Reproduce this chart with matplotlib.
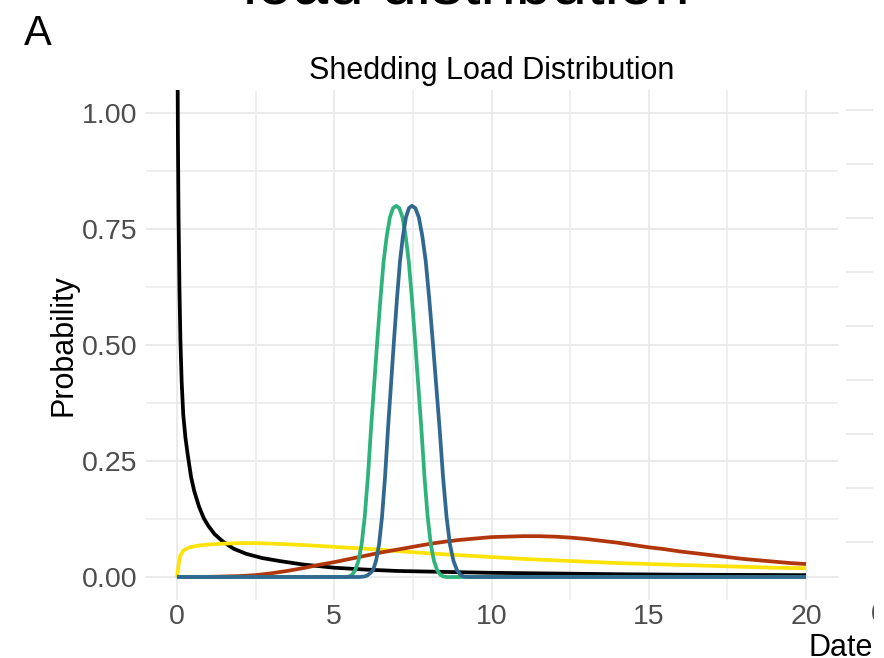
import matplotlib
matplotlib.use("Agg")
import matplotlib.pyplot as plt
from matplotlib.ticker import MultipleLocator
from matplotlib.patches import Rectangle

plt.rcParams['font.family'] = ['Liberation Sans', 'DejaVu Sans']

# ---- data ----
black_x = [0.005, 0.01, 0.03, 0.05, 0.08, 0.11, 0.15, 0.2, 0.27, 0.35, 0.45, 0.55, 0.7, 0.85,
           1.0, 1.2, 1.45, 1.8, 2.2, 2.7, 3.3, 4.0, 5.0, 6.0, 7.0, 8.5, 10, 12, 14, 16, 18, 20]
black_y = [1.6, 1.25, 0.95, 0.78, 0.62, 0.51, 0.42, 0.35, 0.30, 0.26, 0.215, 0.185, 0.152, 0.127,
           0.110, 0.092, 0.077, 0.061, 0.050, 0.041, 0.034, 0.027, 0.020, 0.016, 0.013, 0.011,
           0.009, 0.0075, 0.006, 0.005, 0.0045, 0.004]

yellow_x = [0, 0.05, 0.1, 0.2, 0.4, 0.7, 1.0, 1.5, 2.0, 2.5, 3, 4, 5, 6, 7, 8, 9, 10,
            11, 12, 13, 14, 15, 16, 17, 18, 19, 20]
yellow_y = [0, 0.025, 0.045, 0.057, 0.064, 0.068, 0.070, 0.072, 0.073, 0.073, 0.072, 0.069,
            0.065, 0.061, 0.056, 0.051, 0.047, 0.043, 0.039, 0.036, 0.033, 0.030, 0.028,
            0.026, 0.024, 0.022, 0.020, 0.019]

red_x = [0, 1, 2, 2.5, 3, 3.5, 4, 4.5, 5, 5.5, 6, 6.5, 7, 7.5, 8, 8.5, 9, 9.5, 10, 10.5,
         11, 11.5, 12, 12.5, 13, 13.5, 14, 14.5, 15, 15.5, 16, 16.5, 17, 17.5, 18, 18.5,
         19, 19.5, 20]
red_y = [0, 0.0003, 0.002, 0.004, 0.008, 0.013, 0.019, 0.026, 0.032, 0.039, 0.046, 0.053,
         0.059, 0.065, 0.071, 0.076, 0.080, 0.083, 0.086, 0.087, 0.088, 0.088, 0.087, 0.085,
         0.082, 0.078, 0.074, 0.069, 0.064, 0.060, 0.055, 0.051, 0.047, 0.043, 0.039, 0.036,
         0.033, 0.030, 0.028]

green_x = [0, 5.37, 5.47, 5.57, 5.67, 5.77, 5.87, 5.97, 6.07, 6.17, 6.27, 6.37, 6.47, 6.57,
           6.67, 6.77, 6.87, 6.97, 7.07, 7.17, 7.27, 7.37, 7.47, 7.57, 7.67, 7.77, 7.87,
           7.97, 8.07, 8.17, 8.27, 8.37, 8.47, 8.57, 20]
green_y = [0, 0, 0.001, 0.005, 0.015, 0.035, 0.07, 0.13, 0.215, 0.32, 0.415, 0.51, 0.60,
           0.68, 0.735, 0.775, 0.795, 0.80, 0.795, 0.775, 0.735, 0.68, 0.60, 0.51, 0.415,
           0.32, 0.215, 0.13, 0.07, 0.035, 0.015, 0.005, 0.001, 0, 0]

blue_x = [0, 5.8, 5.95, 6.045, 6.14, 6.235, 6.33, 6.425, 6.52, 6.615, 6.71, 6.805, 6.90,
          6.995, 7.09, 7.185, 7.28, 7.375, 7.47, 7.58, 7.69, 7.80, 7.91, 8.02, 8.13, 8.24,
          8.35, 8.46, 8.57, 8.68, 8.79, 8.90, 9.01, 9.12, 9.3, 20]
blue_y = [0, 0, 0.001, 0.003, 0.008, 0.015, 0.035, 0.07, 0.13, 0.215, 0.32, 0.415, 0.51,
          0.60, 0.68, 0.735, 0.775, 0.795, 0.80, 0.795, 0.775, 0.735, 0.68, 0.60, 0.51,
          0.415, 0.32, 0.215, 0.13, 0.07, 0.035, 0.015, 0.005, 0.001, 0, 0]

x_ticks = [0, 5, 10, 15, 20]
y_ticks = [0.00, 0.25, 0.50, 0.75, 1.00]
y_ticklabels = ["0.00", "0.25", "0.50", "0.75", "1.00"]
right_panel_grid = [0, 1, 2, 3, 4, 5, 6, 7, 8]

W, H = 884, 658
fig = plt.figure(figsize=(W / 100, H / 100), dpi=100)

def fx(px):
    return px / W

def fy(py):
    return 1 - py / H

ax = fig.add_axes([fx(145.5), fy(600.2), (837.5 - 145.5) / W, (600.2 - 89.8) / H])
ax.set_xlim(-1, 21)
ax.set_ylim(-0.05, 1.05)
ax.set_facecolor("white")
for s in ax.spines.values():
    s.set_visible(False)

ax.xaxis.set_minor_locator(MultipleLocator(2.5))
ax.yaxis.set_minor_locator(MultipleLocator(0.125))
ax.set_xticks(x_ticks)
ax.set_yticks(y_ticks)
ax.set_yticklabels(y_ticklabels)
ax.grid(which="major", color="#EBEBEB", lw=1.4)
ax.grid(which="minor", color="#EBEBEB", lw=1.1)
ax.set_axisbelow(True)
ax.tick_params(which="both", length=0)
ax.tick_params(axis="y", labelsize=20.5, labelcolor="#4D4D4D", pad=6)
ax.tick_params(axis="x", labelsize=20.5, labelcolor="#4D4D4D", pad=3)

lw = 2.7
ax.plot(black_x, black_y, color="black", lw=lw, solid_capstyle="butt")
ax.plot(yellow_x, yellow_y, color="#FDE30A", lw=lw, solid_capstyle="butt")
ax.plot(red_x, red_y, color="#B2360C", lw=lw, solid_capstyle="butt")
ax.plot(green_x, green_y, color="#2EB37C", lw=lw, solid_capstyle="butt")
ax.plot(blue_x, blue_y, color="#30688F", lw=lw, solid_capstyle="butt")

ax.set_title("Shedding Load Distribution", fontsize=22, pad=8)
ax.set_ylabel("Probability", fontsize=22, labelpad=2.5)

# partial neighbouring panel on the right (cropped)
ax2 = fig.add_axes([fx(846), fy(560), (873 - 846) / W, (560 - 95) / H])
ax2.set_xlim(0, 1)
ax2.set_ylim(-0.333, 8.278)
ax2.set_yticks(right_panel_grid)
ax2.set_xticks([])
ax2.grid(axis="y", color="#EBEBEB", lw=1.4)
ax2.tick_params(length=0, labelleft=False)
for s in ax2.spines.values():
    s.set_visible(False)

fig.text(fx(879), fy(615), "0", fontsize=20.5, color="#4D4D4D", ha="center", va="center")
fig.text(fx(841), fy(656), "Date", fontsize=22, ha="center", va="baseline")
fig.text(fx(24), fy(45), "A", fontsize=30, ha="left", va="baseline")
fig.text(fx(466), fy(3), "load distribution", fontsize=46, ha="center", va="baseline")

# the reference is cropped at the right: a white strip covers everything beyond it
fig.patches.append(Rectangle((fx(873.5), 0), 1 - fx(873.5), 1, transform=fig.transFigure,
                             facecolor="white", edgecolor="none", zorder=10))

fig.savefig("out.png", dpi=100)
